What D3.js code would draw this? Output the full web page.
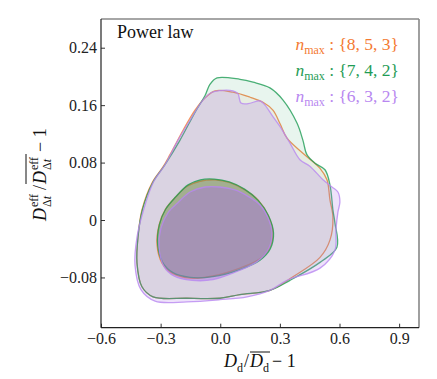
<!DOCTYPE html>
<html>
<head>
<meta charset="utf-8">
<script src="https://cdn.jsdelivr.net/npm/d3@7"></script>
<style>
  body { margin: 0; background: #fff; }
  text { font-family: "Liberation Serif", "DejaVu Serif", serif; }
</style>
</head>
<body>
<div id="chart"></div>
<script>
// ===========================================
// Data: contour outlines (x = Dd/Dd_bar - 1, y = Ddt/Ddt_bar - 1)
var seriesNames = ["{8, 5, 3}", "{7, 4, 2}", "{6, 3, 2}"];
var seriesColors = ["#f47a32", "#1f9c55", "#b887f0"];
var fillColors = ["#f47a32", "#1f9c55", "#aa6ee6"];

var orangeOuter = [[-0.026,0.180],[0.064,0.178],[0.150,0.171],[0.215,0.164],[0.265,0.153],[0.301,0.134],[0.336,0.114],[0.416,0.093],[0.502,0.072],[0.537,0.056],[0.552,0.028],[0.567,0.004],[0.552,-0.028],[0.502,-0.052],[0.366,-0.079],[0.250,-0.098],[0.099,-0.104],[-0.001,-0.109],[-0.167,-0.109],[-0.338,-0.107],[-0.394,-0.093],[-0.419,-0.060],[-0.414,-0.024],[-0.394,0.014],[-0.343,0.052],[-0.288,0.074],[-0.253,0.091],[-0.187,0.125],[-0.127,0.153],[-0.077,0.170]];
var greenOuter = [[-0.016,0.198],[0.099,0.196],[0.165,0.192],[0.250,0.184],[0.316,0.167],[0.386,0.135],[0.416,0.111],[0.436,0.091],[0.477,0.079],[0.527,0.070],[0.552,0.049],[0.567,0.014],[0.577,-0.004],[0.587,-0.038],[0.502,-0.059],[0.351,-0.084],[0.250,-0.098],[0.099,-0.104],[-0.001,-0.109],[-0.167,-0.109],[-0.338,-0.107],[-0.394,-0.093],[-0.419,-0.060],[-0.414,-0.024],[-0.392,0.014],[-0.340,0.052],[-0.278,0.077],[-0.203,0.111],[-0.127,0.150],[-0.077,0.173],[-0.052,0.189]];
var purpleOuter = [[-0.042,0.178],[0.064,0.180],[0.089,0.176],[0.104,0.163],[0.140,0.162],[0.200,0.166],[0.225,0.160],[0.265,0.144],[0.301,0.130],[0.351,0.107],[0.401,0.084],[0.451,0.075],[0.517,0.056],[0.562,0.046],[0.592,0.039],[0.602,0.025],[0.592,0.011],[0.582,-0.014],[0.577,-0.042],[0.502,-0.067],[0.336,-0.084],[0.250,-0.098],[0.135,-0.107],[-0.001,-0.111],[-0.167,-0.114],[-0.328,-0.113],[-0.399,-0.097],[-0.429,-0.063],[-0.419,-0.024],[-0.386,0.014],[-0.338,0.052],[-0.278,0.077],[-0.213,0.111],[-0.152,0.139],[-0.087,0.167]];

var orangeInner = [[-0.228,0.031],[-0.167,0.047],[-0.102,0.054],[-0.026,0.056],[0.049,0.052],[0.124,0.042],[0.190,0.028],[0.240,0.007],[0.265,-0.017],[0.250,-0.038],[0.200,-0.054],[0.099,-0.067],[-0.037,-0.078],[-0.152,-0.081],[-0.243,-0.074],[-0.293,-0.060],[-0.318,-0.035],[-0.308,-0.007],[-0.278,0.014]];
var greenInner = [[-0.225,0.032],[-0.162,0.049],[-0.100,0.056],[-0.030,0.057],[0.045,0.053],[0.122,0.043],[0.192,0.027],[0.243,0.006],[0.268,-0.018],[0.252,-0.040],[0.200,-0.056],[0.099,-0.069],[-0.037,-0.079],[-0.152,-0.080],[-0.240,-0.073],[-0.290,-0.059],[-0.315,-0.034],[-0.306,-0.006],[-0.275,0.015]];
var purpleInner = [[-0.213,0.024],[-0.152,0.039],[-0.077,0.046],[-0.001,0.046],[0.074,0.042],[0.140,0.033],[0.200,0.021],[0.240,0.003],[0.260,-0.018],[0.245,-0.039],[0.190,-0.057],[0.099,-0.070],[-0.037,-0.083],[-0.142,-0.084],[-0.233,-0.078],[-0.283,-0.065],[-0.308,-0.038],[-0.298,-0.011],[-0.263,0.010]];

var xTicks = [-0.6, -0.3, 0, 0.3, 0.6, 0.9];
var xTickLabels = ["\u22120.6", "\u22120.3", "0.0", "0.3", "0.6", "0.9"];
var yTicks = [-0.08, 0, 0.08, 0.16, 0.24];
var yTickLabels = ["\u22120.08", "0", "0.08", "0.16", "0.24"];

var series = [
  {name: seriesNames[0], color: seriesColors[0], fill: fillColors[0], outer: orangeOuter, inner: orangeInner, aOut: 0.07, aIn: 0.30},
  {name: seriesNames[1], color: seriesColors[1], fill: fillColors[1], outer: greenOuter, inner: greenInner, aOut: 0.10, aIn: 0.32},
  {name: seriesNames[2], color: seriesColors[2], fill: fillColors[2], outer: purpleOuter, inner: purpleInner, aOut: 0.20, aIn: 0.42}
];

// ===========================================
// Set up SVG element & chart area
var svgWidth = 437;
var svgHeight = 379;
var margin = {top: 19, right: 18, bottom: 51.3, left: 101};
var chartWidth = svgWidth - margin.left - margin.right;
var chartHeight = svgHeight - margin.top - margin.bottom;

var svg = d3.select("#chart")
  .append("svg")
  .attr("width", svgWidth)
  .attr("height", svgHeight)
  .style("background", "#fff");

var chartGroup = svg.append("g")
  .attr("transform", `translate(${margin.left},${margin.top})`);

var xscale = d3.scaleLinear().domain([-0.6, 1.0]).range([0, chartWidth]);
var yscale = d3.scaleLinear().domain([-0.15, 0.28]).range([chartHeight, 0]);

var line = d3.line()
  .x(d => xscale(d[0]))
  .y(d => yscale(d[1]))
  .curve(d3.curveCatmullRomClosed.alpha(0.5));

// contours: outer (95%) then inner (68%)
series.forEach(function(s) {
  chartGroup.append("path")
    .attr("d", line(s.outer))
    .attr("fill", s.fill)
    .attr("fill-opacity", s.aOut)
    .attr("stroke", s.color)
    .attr("stroke-opacity", 0.8)
    .attr("stroke-width", 1.3);
});
series.forEach(function(s) {
  chartGroup.append("path")
    .attr("d", line(s.inner))
    .attr("fill", s.fill)
    .attr("fill-opacity", s.aIn)
    .attr("stroke", s.color)
    .attr("stroke-opacity", 0.8)
    .attr("stroke-width", 1.3);
});

// axes (ticks point inward)
var b_axis = d3.axisBottom(xscale)
  .tickValues(xTicks)
  .tickFormat((d, i) => xTickLabels[i])
  .tickSizeInner(-4).tickSizeOuter(0).tickPadding(5);
var l_axis = d3.axisLeft(yscale)
  .tickValues(yTicks)
  .tickFormat((d, i) => yTickLabels[i])
  .tickSizeInner(-4).tickSizeOuter(0).tickPadding(4);

var gx = chartGroup.append("g")
  .attr("transform", `translate(0, ${chartHeight})`)
  .call(b_axis);
var gy = chartGroup.append("g").call(l_axis);

[gx, gy].forEach(function(g) {
  g.select(".domain").remove();
  g.selectAll("line").attr("stroke", "#333").attr("stroke-width", 1);
  g.selectAll("text")
    .attr("font-family", "Liberation Serif")
    .attr("font-size", "16px")
    .attr("fill", "#222");
});
gx.selectAll("text").attr("dy", "0.71em");

// frame: top/right grey, left/bottom dark
chartGroup.append("line").attr("x1", 0).attr("x2", chartWidth).attr("y1", 0).attr("y2", 0)
  .attr("stroke", "#888").attr("stroke-width", 1.6);
chartGroup.append("line").attr("x1", chartWidth).attr("x2", chartWidth).attr("y1", 0).attr("y2", chartHeight)
  .attr("stroke", "#888").attr("stroke-width", 1.6);
chartGroup.append("line").attr("x1", 0).attr("x2", 0).attr("y1", 0).attr("y2", chartHeight)
  .attr("stroke", "#222").attr("stroke-width", 1.2);
chartGroup.append("line").attr("x1", 0).attr("x2", chartWidth).attr("y1", chartHeight).attr("y2", chartHeight)
  .attr("stroke", "#222").attr("stroke-width", 1.2);

// title
svg.append("text")
  .attr("x", 117).attr("y", 38)
  .attr("font-size", "18px")
  .attr("fill", "#111")
  .text("Power law");

// legend
series.forEach(function(s, i) {
  var t = svg.append("text")
    .attr("x", 399).attr("y", 50 + i * 26)
    .attr("text-anchor", "end")
    .attr("font-size", "17.5px")
    .attr("fill", s.color);
  t.append("tspan").attr("font-style", "italic").text("n");
  t.append("tspan").attr("font-size", "12px").attr("dy", 4).text("max");
  t.append("tspan").attr("dy", -4).text("\u00a0:\u00a0" + s.name);
});

// x label: D_d / overline(D_d) - 1
var xl = svg.append("g").attr("transform", "translate(224, 367)").attr("fill", "#111");
xl.append("text").attr("x", 0).attr("font-size", "18px").attr("font-style", "italic").text("D");
xl.append("text").attr("x", 13).attr("y", 5).attr("font-size", "12px").text("d");
xl.append("text").attr("x", 20).attr("font-size", "18px").text("/");
xl.append("text").attr("x", 26).attr("font-size", "18px").attr("font-style", "italic").text("D");
xl.append("text").attr("x", 39).attr("y", 5).attr("font-size", "12px").text("d");
xl.append("line").attr("x1", 26).attr("x2", 46).attr("y1", -15).attr("y2", -15).attr("stroke", "#111").attr("stroke-width", 1);
xl.append("text").attr("x", 48).attr("font-size", "18px").text("\u2212 1");

// y label: D^eff_dt / overline(D^eff_dt) - 1
var yl = svg.append("g").attr("transform", "translate(46, 177) rotate(-90)").attr("fill", "#111");
yl.append("text").attr("x", -44).attr("font-size", "18px").attr("font-style", "italic").text("D");
yl.append("text").attr("x", -30).attr("y", -8).attr("font-size", "12px").text("eff");
var s1 = yl.append("text").attr("x", -30).attr("y", 5).attr("font-size", "12px");
s1.append("tspan").text("\u0394");
s1.append("tspan").attr("font-style", "italic").text("t");
yl.append("text").attr("x", -13).attr("font-size", "18px").text("/");
yl.append("text").attr("x", -7).attr("font-size", "18px").attr("font-style", "italic").text("D");
yl.append("text").attr("x", 7).attr("y", -8).attr("font-size", "12px").text("eff");
var s2 = yl.append("text").attr("x", 7).attr("y", 5).attr("font-size", "12px");
s2.append("tspan").text("\u0394");
s2.append("tspan").attr("font-style", "italic").text("t");
yl.append("line").attr("x1", -7).attr("x2", 23).attr("y1", -20).attr("y2", -20).attr("stroke", "#111").attr("stroke-width", 1);
yl.append("text").attr("x", 25).attr("font-size", "18px").text("\u2212 1");
</script>
</body>
</html>
